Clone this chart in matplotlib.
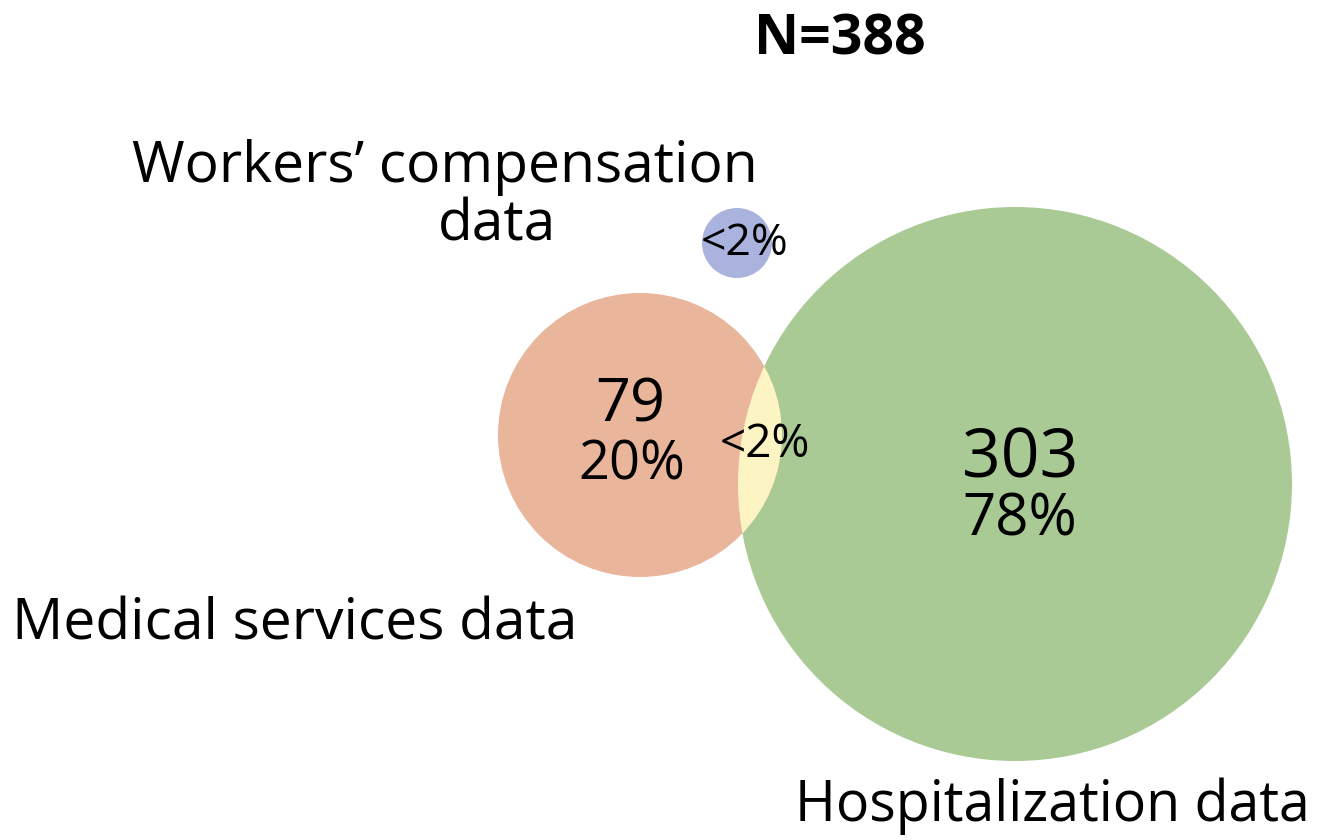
import matplotlib
matplotlib.use("Agg")
import matplotlib.pyplot as plt
from matplotlib.patches import Circle

# Data
sets = ["Medical services data", "Hospitalization data", "Workers\u2019 compensation\ndata"]
counts = ["79", "303", ""]
percents = ["20%", "78%", "<2%"]
overlap_label = "<2%"
total_label = "N=388"

plt.rcParams['font.family'] = ['Open Sans', 'DejaVu Sans']

fig = plt.figure(figsize=(13.27, 8.4), dpi=100)
ax = fig.add_axes([0, 0, 1, 1])
ax.set_xlim(0, 1327)
ax.set_ylim(840, 0)
ax.set_aspect('equal')
ax.axis('off')

c_orange = '#E9B59B'
c_green = '#AACA95'
c_blue = '#AAB3DE'
c_yellow = '#FCF4C3'

green = Circle((1015, 484), 277, facecolor=c_green, edgecolor='none', zorder=1)
orange = Circle((640, 435), 142, facecolor=c_orange, edgecolor='none', zorder=2)
lens = Circle((640, 435), 142, facecolor=c_yellow, edgecolor='none', zorder=3)
blue = Circle((737, 243), 35, facecolor=c_blue, edgecolor='none', zorder=2)
for p in (green, orange, lens, blue):
    ax.add_patch(p)
lens.set_clip_path(Circle((1015, 484), 277, transform=ax.transData))

ax.text(295, 625, sets[0], ha='center', va='center', fontsize=41)
ax.text(1052, 806, sets[1], ha='center', va='center', fontsize=40)
wc_lines = sets[2].split("\n")
ax.text(445, 167, wc_lines[0], ha='center', va='center', fontsize=41)
ax.text(497, 226, wc_lines[1], ha='center', va='center', fontsize=41)

ax.text(840, 40, total_label, ha='center', va='center', fontsize=40, fontweight='bold')

ax.text(630, 405, counts[0], ha='center', va='center', fontsize=44)
ax.text(632, 465, percents[0], ha='center', va='center', fontsize=39)
ax.text(1020, 460, counts[1], ha='center', va='center', fontsize=49)
ax.text(1020, 520, percents[1], ha='center', va='center', fontsize=42)
ax.text(745, 244, percents[2], ha='center', va='center', fontsize=32)
ax.text(765, 445, overlap_label, ha='center', va='center', fontsize=33)

fig.savefig('out.png', dpi=100, facecolor='white')
